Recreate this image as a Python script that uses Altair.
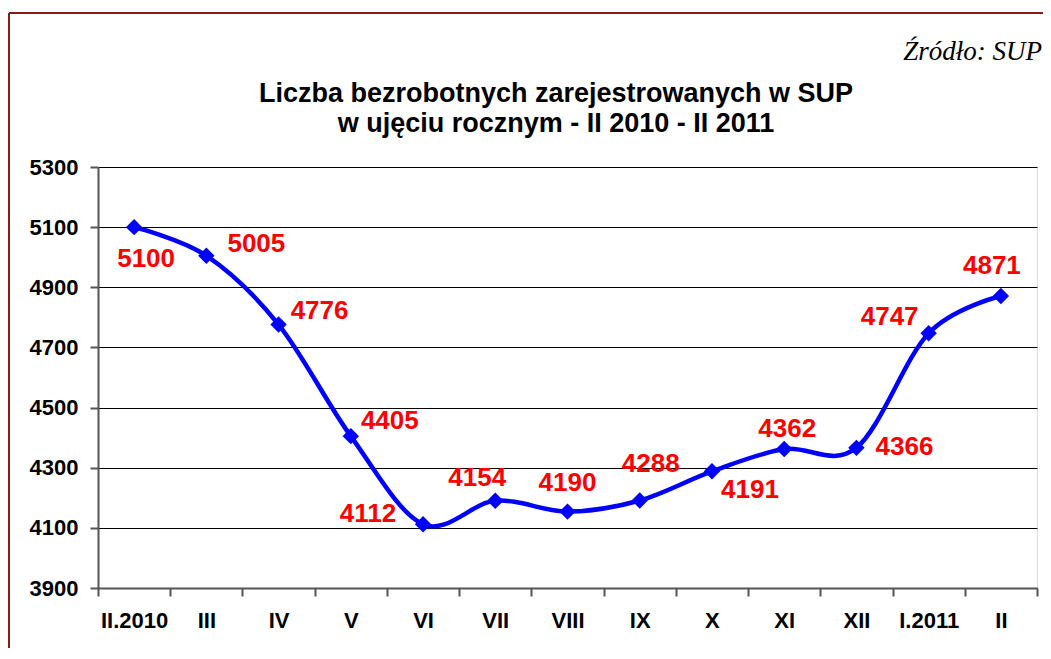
import altair as alt
import pandas as pd

# ---- data ----
months = ["II.2010", "III", "IV", "V", "VI", "VII", "VIII", "IX", "X", "XI", "XII", "I.2011", "II"]
values = [5100, 5005, 4776, 4405, 4112, 4190, 4154, 4191, 4288, 4362, 4366, 4747, 4871]
labels = ["5100", "5005", "4776", "4405", "4112", "4154", "4190", "4288", "4191", "4362", "4366", "4747", "4871"]
y_ticks = [3900, 4100, 4300, 4500, 4700, 4900, 5100, 5300]
title_lines = ["Liczba bezrobotnych zarejestrowanych w SUP", "w ujęciu rocznym - II 2010 - II 2011"]
source_text = "Źródło: SUP"

# label placement (style): pixel offsets of each data label from its point
label_dx = [12, 50, 41, 39, -55, -18, 0, 11, 38, 3, 48, -39, -9]
label_dy = [32, -12, -14, -15, -10, -23, -29, -36, 19, -20, -1, -16, -30]

df = pd.DataFrame({"month": months, "value": values, "label": labels})

W, H = 939, 421
FONT = "Liberation Sans"

x_enc = alt.X(
    "month:N",
    sort=months,
    scale=alt.Scale(type="band", paddingInner=0, paddingOuter=0),
    bandPosition=0.5,
    axis=alt.Axis(
        title=None, labelAngle=0, tickBand="extent", grid=False,
        labelFont=FONT, labelFontSize=22, labelFontWeight="bold", labelColor="black",
        labelPadding=14, tickSize=8, tickWidth=2, tickColor="#555555",
        domainColor="#555555", domainWidth=2,
    ),
)
y_enc = alt.Y(
    "value:Q",
    scale=alt.Scale(domain=[3900, 5300], nice=False, zero=False),
    axis=alt.Axis(
        title=None, values=y_ticks, format="d", grid=True, gridColor="black", gridWidth=1,
        labelFont=FONT, labelFontSize=22, labelFontWeight="bold", labelColor="black",
        labelPadding=12, tickSize=8, tickWidth=2, tickColor="#555555",
        domainColor="#555555", domainWidth=2,
    ),
)

base = alt.Chart(df)

line = base.mark_line(color="#0000FF", strokeWidth=4.5, interpolate="cardinal").encode(x=x_enc, y=y_enc)
pts = base.mark_point(shape="diamond", filled=True, color="#0000FF", size=270, opacity=1).encode(x=x_enc, y=y_enc)

text_layers = []
for m, dx, dy in zip(months, label_dx, label_dy):
    text_layers.append(
        base.transform_filter(alt.datum.month == m)
        .mark_text(font=FONT, fontSize=26, fontWeight="bold", color="#FF0000",
                   align="center", baseline="middle", dx=dx, dy=dy)
        .encode(x=x_enc, y=y_enc, text="label:N")
    )

one = pd.DataFrame({"t": [source_text]})
source = alt.Chart(one).mark_text(
    font="Liberation Serif", fontStyle="italic", fontSize=27, color="black",
    align="right", baseline="alphabetic",
).encode(x=alt.value(944), y=alt.value(-107), text="t:N")

title1 = alt.Chart(pd.DataFrame({"t": [title_lines[0]]})).mark_text(
    font=FONT, fontSize=27, fontWeight="bold", color="black", align="center", baseline="alphabetic"
).encode(x=alt.value(458), y=alt.value(-65), text="t:N")
title2 = alt.Chart(pd.DataFrame({"t": [title_lines[1]]})).mark_text(
    font=FONT, fontSize=27, fontWeight="bold", color="black", align="center", baseline="alphabetic"
).encode(x=alt.value(458), y=alt.value(-35), text="t:N")

frame_top = alt.Chart(one).mark_rule(color="#8B1A1A", strokeWidth=2).encode(
    x=alt.value(-89), x2=alt.value(W + 6), y=alt.value(-154)
)
frame_left = alt.Chart(one).mark_rule(color="#8B1A1A", strokeWidth=2).encode(
    x=alt.value(-89), y=alt.value(-154), y2=alt.value(H + 70)
)

chart = (
    alt.layer(line, pts, *text_layers, source, title1, title2, frame_top, frame_left)
    .properties(
        width=W, height=H,
        padding={"left": 90, "top": 159, "right": 6, "bottom": 60},
        autosize=alt.AutoSizeParams(type="none"),
    )
    .configure_view(fill="#FCF0D8", stroke="#8C8C8C", strokeWidth=3)
    .configure(background="white")
)

chart.save("out.html", embed_options={"renderer": "svg", "actions": False})
